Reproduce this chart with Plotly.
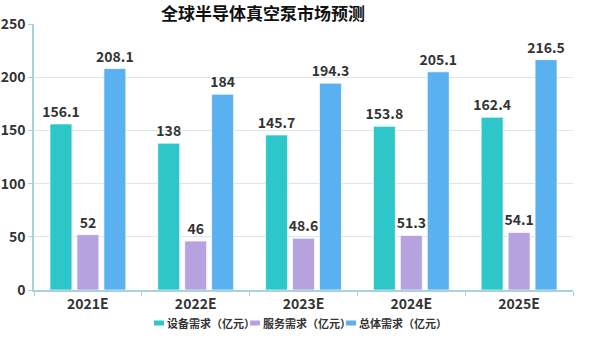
import plotly.graph_objects as go

categories = ["2021E", "2022E", "2023E", "2024E", "2025E"]
equipment = [156.1, 138, 145.7, 153.8, 162.4]
service = [52, 46, 48.6, 51.3, 54.1]
total = [208.1, 184, 194.3, 205.1, 216.5]

series = [
    ("设备需求（亿元）", equipment, "#2ec7c9"),
    ("服务需求（亿元）", service, "#b6a2de"),
    ("总体需求（亿元）", total, "#5ab1ef"),
]

font_family = "Noto Sans CJK SC"
W, H = 590, 340
ML, MR, MT, MB = 34, 17, 24, 50
plot_w = W - ML - MR
plot_h = H - MT - MB


def px_x(px):
    return (px - ML) / plot_w


def px_y(py):
    return (H - MB - py) / plot_h


fig = go.Figure()
for name, vals, color in series:
    fig.add_trace(go.Bar(
        x=categories, y=vals, name=name,
        marker=dict(color=color, line=dict(color="rgba(255,255,255,0.7)", width=1)),
        text=[f"{v:g}" for v in vals], textposition="outside",
        constraintext="none",
        textfont=dict(size=14, color="#333333", family=font_family, weight="bold"),
        cliponaxis=False, showlegend=False,
    ))

# custom compact legend below the plot
legend_x = [154, 250, 346]
legend_y = 323
shapes = []
annotations = []
for (name, _, color), lx in zip(series, legend_x):
    shapes.append(dict(
        type="rect", xref="paper", yref="paper",
        x0=px_x(lx), x1=px_x(lx + 10), y0=px_y(legend_y + 2.5), y1=px_y(legend_y - 2.5),
        fillcolor=color, line=dict(width=0),
    ))
    annotations.append(dict(
        text=name, xref="paper", yref="paper", x=px_x(lx + 11), y=px_y(legend_y),
        xanchor="left", yanchor="middle", showarrow=False,
        font=dict(size=11, color="#333333", family=font_family, weight="bold"),
    ))

fig.update_layout(
    width=W, height=H,
    margin=dict(l=ML, r=MR, t=MT, b=MB),
    paper_bgcolor="white", plot_bgcolor="white",
    barmode="group", bargap=0.25, bargroupgap=0.185,
    font=dict(family=font_family, color="#333333"),
    title=dict(text="全球半导体真空泵市场预测", xref="paper", x=px_x(263), xanchor="center",
               y=1 - 14 / H, yanchor="middle",
               font=dict(size=17, color="#111111", family=font_family, weight="bold")),
    showlegend=False,
    shapes=shapes,
    annotations=annotations,
)
fig.update_xaxes(
    showline=True, linecolor="#a9d3dc", linewidth=1.5,
    ticks="outside", tickcolor="#a9d3dc", ticklen=4, tickson="boundaries",
    tickfont=dict(size=14, color="#333333", family=font_family, weight="bold"),
    automargin=False,
)
fig.update_yaxes(
    range=[0, 250], dtick=50,
    showline=True, linecolor="#a9d3dc", linewidth=1.5,
    ticks="outside", tickcolor="#a9d3dc", ticklen=4,
    showgrid=True, gridcolor="#d8e8ee", gridwidth=1,
    zeroline=False,
    tickfont=dict(size=14, color="#333333", family=font_family, weight="bold"),
    automargin=False,
)

fig.write_html("out.html")
